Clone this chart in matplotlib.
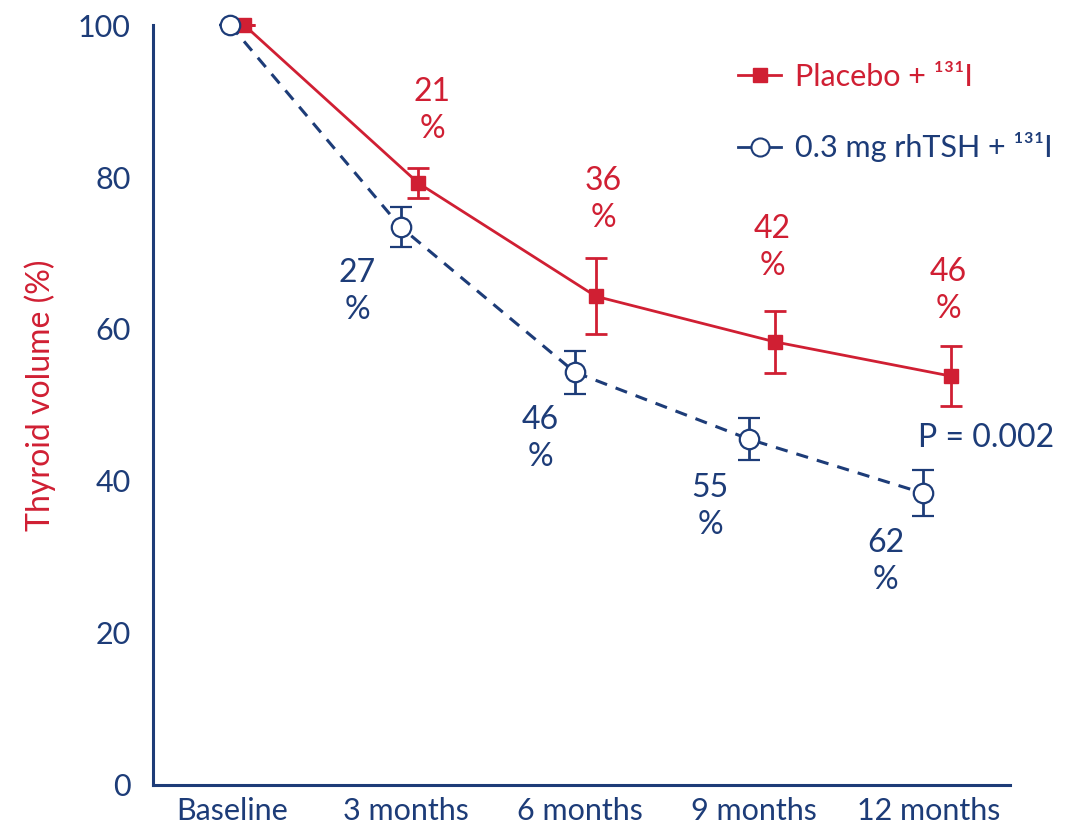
import numpy as np
import matplotlib
matplotlib.use("Agg")
import matplotlib.pyplot as plt
from matplotlib.lines import Line2D

# data
timepoints = ["Baseline", "3 months", "6 months", "9 months", "12 months"]
placebo = [100, 79.2, 64.3, 58.3, 53.8]
placebo_err = [0, 2.0, 5.0, 4.1, 3.9]
rhtsh = [100, 73.4, 54.3, 45.5, 38.4]
rhtsh_err = [0, 2.6, 2.8, 2.8, 3.0]
placebo_labels = ["21\n%", "36\n%", "42\n%", "46\n%"]
rhtsh_labels = ["27\n%", "46\n%", "55\n%", "62\n%"]
series_names = ["Placebo + ¹³¹I", "0.3 mg rhTSH + ¹³¹I"]

RED = "#d01f33"
NAVY = "#1d3c78"

plt.rcParams['font.family'] = ['Lato', 'DejaVu Sans']

fig = plt.figure(figsize=(10.77, 8.34), dpi=100)
ax = fig.add_axes([0.142, 0.0588, 0.796, 0.9112])

x = np.arange(len(timepoints))
x_red = x + np.array([0.07, 0.07, 0.09, 0.12, 0.13])
x_blue = x + np.array([-0.01, -0.03, -0.03, -0.03, -0.03])

ax.errorbar(x_red, placebo, yerr=placebo_err, color=RED, lw=2.0, marker='s',
            ms=10, mfc=RED, mec=RED, capsize=8, capthick=2, elinewidth=2,
            clip_on=False, zorder=3)
ax.errorbar(x_blue, rhtsh, yerr=rhtsh_err, color=NAVY, lw=2.2, ls=(0, (4, 3)),
            marker='o', ms=14, mfc='white', mec=NAVY, mew=1.6, capsize=8,
            capthick=2.5, elinewidth=2, clip_on=False, zorder=4)

# percentage reduction labels
red_pos = [(1.149, 88.8), (2.132, 77.0), (3.103, 70.7), (4.115, 65.1)]
blue_pos = [(0.718, 64.9), (1.770, 45.6), (2.747, 36.6), (3.753, 29.4)]
for (px, py), t in zip(red_pos, placebo_labels):
    ax.text(px, py, t, color=RED, fontsize=23, ha='center', va='center',
            linespacing=1.3)
for (px, py), t in zip(blue_pos, rhtsh_labels):
    ax.text(px, py, t, color=NAVY, fontsize=23, ha='center', va='center',
            linespacing=1.3)
ax.text(4.33, 45.7, "P = 0.002", color=NAVY, fontsize=23, ha='center', va='center')

ax.set_xlim(-0.454, 4.47)
ax.set_ylim(0, 100)
ax.set_yticks([0, 20, 40, 60, 80, 100])
ax.set_xticks(x)
ax.set_xticklabels(timepoints)
ax.tick_params(axis='both', length=0, colors=NAVY, labelsize=22)
ax.tick_params(axis='y', pad=16)
ax.tick_params(axis='x', pad=9)
for s in ['top', 'right']:
    ax.spines[s].set_visible(False)
for s in ['left', 'bottom']:
    ax.spines[s].set_color(NAVY)
    ax.spines[s].set_linewidth(2.2)

fig.text(0.037, 0.526, "Thyroid volume (%)", color=RED, fontsize=23,
         rotation=90, ha='center', va='center')

handles = [Line2D([], [], color=RED, lw=2, marker='s', ms=10),
           Line2D([], [], color=NAVY, lw=2, marker='o', ms=13, mfc='white',
                  mew=1.5)]
leg = ax.legend(handles, series_names, loc='upper left',
                bbox_to_anchor=(0.683, 0.95), frameon=False,
                fontsize=22, handlelength=1.4, handletextpad=0.45,
                labelspacing=1.35, borderaxespad=0, borderpad=0)
for txt, c in zip(leg.get_texts(), [RED, NAVY]):
    txt.set_color(c)

fig.savefig("out.png", dpi=100)
